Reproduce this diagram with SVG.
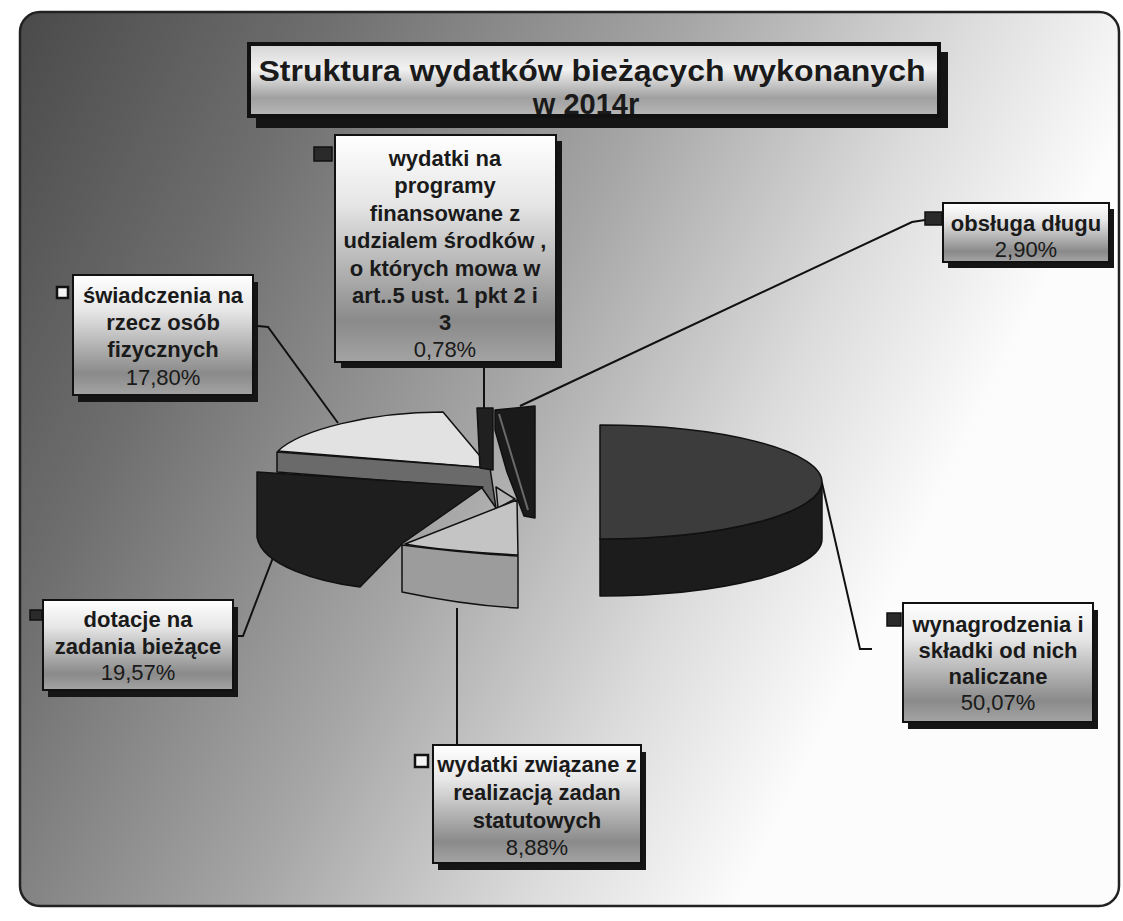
<svg xmlns="http://www.w3.org/2000/svg" width="1123" height="921" viewBox="0 0 1123 921">
<defs>
<linearGradient id="bg" gradientUnits="userSpaceOnUse" x1="20" y1="12" x2="1000" y2="500">
<stop offset="0" stop-color="#4a4a4a"/>
<stop offset="0.25" stop-color="#6e6e6e"/>
<stop offset="0.4" stop-color="#8a8a8a"/>
<stop offset="0.55" stop-color="#a6a6a6"/>
<stop offset="0.78" stop-color="#dcdcdc"/>
<stop offset="0.95" stop-color="#fcfcfc"/>
</linearGradient>
<linearGradient id="boxg" x1="0" y1="0" x2="0" y2="1">
<stop offset="0" stop-color="#ffffff"/>
<stop offset="0.3" stop-color="#e6e6e6"/>
<stop offset="0.82" stop-color="#8a8a8a"/>
<stop offset="1" stop-color="#a4a4a4"/>
</linearGradient>
<linearGradient id="titleg" x1="0" y1="0" x2="0" y2="1">
<stop offset="0" stop-color="#d4d4d4"/>
<stop offset="0.35" stop-color="#f2f2f2"/>
<stop offset="0.75" stop-color="#a0a0a0"/>
<stop offset="1" stop-color="#b8b8b8"/>
</linearGradient>
</defs>
<style>
.box{fill:url(#boxg);stroke:#111;stroke-width:2}
.shadow{fill:#151515}
.lbl{font-family:"Liberation Sans",Arial,sans-serif;font-size:22px;font-weight:bold;fill:#1a1a1a;text-anchor:middle}
.pct{font-weight:normal}
.ttl{font-family:"Liberation Sans",Arial,sans-serif;font-size:29px;font-weight:bold;fill:#1a1a1a;text-anchor:middle}
.mk-d{fill:#2a2a2a;stroke:#111;stroke-width:1.5}
.mk-l{fill:#f4f4f4;stroke:#111;stroke-width:2.5}
.lead{fill:none;stroke:#111;stroke-width:2}
.edge{stroke:#111;stroke-width:1.5;stroke-linejoin:round}
</style>
<rect width="1123" height="921" fill="#ffffff"/>
<rect id="chart-area" x="20" y="12" width="1099" height="894" rx="20" fill="url(#bg)" stroke="#222" stroke-width="2.5"/>

<g id="title">
<rect class="shadow" x="256" y="52" width="692" height="76"/>
<rect x="249" y="44" width="690" height="72" fill="url(#titleg)" stroke="#111" stroke-width="4"/>
<text class="ttl" x="592" y="81" textLength="667" lengthAdjust="spacingAndGlyphs">Struktura wydatków bieżących wykonanych</text>
<text class="ttl" x="586" y="114">w 2014r</text>
</g>

<g id="connectors">
<polyline class="lead" points="484,362 484,410"/>
<polyline class="lead" points="258,326 268,327 338,423"/>
<polyline class="lead" points="925,220 912,222 520,406"/>
<polyline class="lead" points="233,636 243,636 274,555"/>
<polyline class="lead" points="822,483 860,649 872,649"/>
<polyline class="lead" points="457,745 457,608"/>
</g>

<g id="pie">
<path class="edge" d="M600,539 A222,57 0 0,0 822,482 L822,539 A222,57 0 0,1 600,596 Z" fill="#1c1c1c"/>
<path class="edge" d="M600,425 A222,57 0 0,1 822,482 A222,57 0 0,1 600,539 Z" fill="#3c3c3c"/>
<path class="edge" d="M278,451 C300,430 370,412 443,412 L490,468 Z" fill="#e2e2e2"/>
<path class="edge" d="M277,452 L490,468 L496,508 L482,488 L277,472 Z" fill="#6a6a6a"/>
<path class="edge" d="M257,472 L483,487 L403,543 L360,587 C320,582 262,566 257,537 Z" fill="#1e1e1e"/>
<path class="edge" d="M496,487 L515,499 L498,508 Z" fill="#b4b4b4"/>
<path class="edge" d="M405,544 L517,500 L518,555 C480,553 440,550 405,544 Z" fill="#c4c4c4"/>
<path class="edge" d="M402,545 C440,550 480,554 518,556 L518,608 C480,606 440,600 402,592 Z" fill="#9c9c9c"/>
<path class="edge" d="M477,408 L493,408 L493,470 L480,468 Z" fill="#202020"/>
<path class="edge" d="M495,410 L535,406 L535,518 L524,516 L507,472 L495,430 Z" fill="#1a1a1a"/>
<path d="M499,414 L528,510" stroke="#6a6a6a" stroke-width="2" fill="none"/>
</g>

<g id="label-programy">
<rect class="shadow" x="341" y="141" width="221" height="227"/>
<rect class="box" x="335" y="135" width="221" height="227"/>
<rect class="mk-d" x="314" y="147" width="18" height="14"/>
<text class="lbl" x="445" y="166">wydatki na</text>
<text class="lbl" x="445" y="193">programy</text>
<text class="lbl" x="445" y="221">finansowane z</text>
<text class="lbl" x="445" y="248">udzialem środków ,</text>
<text class="lbl" x="445" y="276">o których mowa w</text>
<text class="lbl" x="445" y="303">art..5 ust. 1 pkt 2 i</text>
<text class="lbl" x="445" y="330">3</text>
<text class="lbl pct" x="445" y="357">0,78%</text>
</g>

<g id="label-swiadczenia">
<rect class="shadow" x="78" y="282" width="180" height="120"/>
<rect class="box" x="73" y="275" width="180" height="120"/>
<rect class="mk-l" x="57" y="287" width="11" height="11"/>
<text class="lbl" x="163" y="303">świadczenia na</text>
<text class="lbl" x="163" y="330">rzecz osób</text>
<text class="lbl" x="163" y="357">fizycznych</text>
<text class="lbl pct" x="163" y="385">17,80%</text>
</g>

<g id="label-obsluga">
<rect class="shadow" x="948" y="209" width="166" height="59"/>
<rect class="box" x="943" y="203" width="166" height="59"/>
<rect class="mk-d" x="925" y="212" width="17" height="13"/>
<text class="lbl" x="1026" y="231" font-weight="normal">obsługa długu</text>
<text class="lbl pct" x="1026" y="257">2,90%</text>
</g>

<g id="label-dotacje">
<rect class="shadow" x="48" y="607" width="190" height="90"/>
<rect class="box" x="43" y="600" width="190" height="90"/>
<rect class="mk-d" x="30" y="610" width="12" height="10"/>
<text class="lbl" x="138" y="627">dotacje  na</text>
<text class="lbl" x="138" y="654">zadania bieżące</text>
<text class="lbl pct" x="138" y="680">19,57%</text>
</g>

<g id="label-wynagrodzenia">
<rect class="shadow" x="908" y="610" width="190" height="119"/>
<rect class="box" x="903" y="603" width="190" height="119"/>
<rect class="mk-d" x="887" y="613" width="14" height="13"/>
<text class="lbl" x="998" y="632">wynagrodzenia i</text>
<text class="lbl" x="998" y="658">składki od nich</text>
<text class="lbl" x="998" y="684">naliczane</text>
<text class="lbl pct" x="998" y="710">50,07%</text>
</g>

<g id="label-wydatki-zwiazane">
<rect class="shadow" x="438" y="752" width="208" height="118"/>
<rect class="box" x="433" y="745" width="208" height="118"/>
<rect class="mk-l" x="415" y="755" width="13" height="12"/>
<text class="lbl" x="537" y="772">wydatki związane z</text>
<text class="lbl" x="537" y="800">realizacją zadan</text>
<text class="lbl" x="537" y="828">statutowych</text>
<text class="lbl pct" x="537" y="855">8,88%</text>
</g>
</svg>
